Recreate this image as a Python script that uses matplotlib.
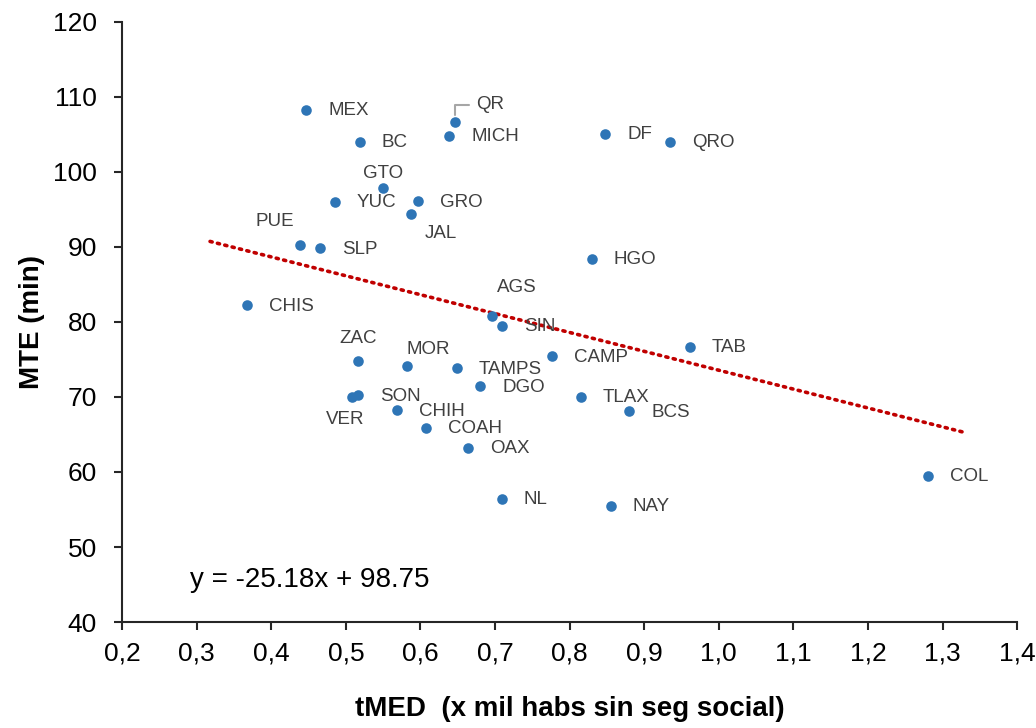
import numpy as np
import matplotlib
matplotlib.use('Agg')
import matplotlib.pyplot as plt
from matplotlib.ticker import FuncFormatter, MultipleLocator

plt.rcParams['font.family'] = ['Liberation Sans', 'DejaVu Sans']

# data
states = ['MEX', 'BC', 'QR', 'MICH', 'GTO', 'YUC', 'GRO', 'JAL', 'PUE', 'SLP',
          'DF', 'QRO', 'HGO', 'CHIS', 'AGS', 'SIN', 'ZAC', 'MOR', 'TAMPS', 'DGO',
          'VER', 'SON', 'CHIH', 'COAH', 'OAX', 'CAMP', 'TAB', 'TLAX', 'BCS',
          'NL', 'NAY', 'COL']
tmed = [0.447, 0.519, 0.646, 0.639, 0.550, 0.485, 0.597, 0.587, 0.439, 0.465,
        0.848, 0.935, 0.830, 0.368, 0.696, 0.709, 0.517, 0.582, 0.649, 0.680,
        0.508, 0.516, 0.569, 0.608, 0.664, 0.777, 0.961, 0.815, 0.880,
        0.709, 0.855, 1.280]
mte = [108.3, 104.0, 106.7, 104.8, 97.8, 96.0, 96.1, 94.4, 90.2, 89.8,
       105.1, 104.0, 88.4, 82.2, 80.8, 79.5, 74.8, 74.1, 73.8, 71.4,
       70.0, 70.2, 68.2, 65.9, 63.2, 75.4, 76.7, 70.0, 68.1,
       56.4, 55.5, 59.5]

# label offsets in pixels (dx, dy) and horizontal alignment
label_pos = {
    'GTO': (0, 15, 'center'), 'JAL': (30, -20, 'center'), 'PUE': (-26, 24, 'center'),
    'AGS': (25, 28, 'center'), 'ZAC': (0, 22, 'center'), 'MOR': (21, 17, 'center'),
    'VER': (-7, -23, 'center'), 'QR': (21, 17, 'left'),
}

slope, intercept = -25.18, 98.75
trend_x = np.array([0.318, 1.33])

fig = plt.figure(figsize=(10.36, 7.28), dpi=100)
ax = fig.add_axes([0.1178, 0.1456, 0.864, 0.8242])

ax.plot(trend_x, slope * trend_x + intercept, color='#C00000', lw=2.6,
        linestyle=(0, (0.6, 1.5)), dash_capstyle='round', zorder=2)
ax.scatter(tmed, mte, s=58, color='#2E75B6', zorder=3, linewidths=0)

for name, x, y in zip(states, tmed, mte):
    dx, dy, ha = label_pos.get(name, (22, -1, 'left'))
    ax.annotate(name, (x, y), xytext=(dx, dy), textcoords='offset pixels',
                ha=ha, va='center', fontsize=13.5, color='#404040', zorder=4)

# leader line for QR
ax.annotate('', (0.646, 106.7), xytext=(14, 17), textcoords='offset pixels',
            arrowprops=dict(arrowstyle='-', color='#A6A6A6', lw=1.5,
                            connectionstyle='angle,angleA=0,angleB=90,rad=0',
                            shrinkA=0, shrinkB=5))

ax.text(68 / 895, 42 / 600, 'y = -25.18x + 98.75', transform=ax.transAxes,
        fontsize=20, color='black', va='center')

ax.set_xlim(0.2, 1.4)
ax.set_ylim(40, 120)
ax.xaxis.set_major_locator(MultipleLocator(0.1))
ax.yaxis.set_major_locator(MultipleLocator(10))
ax.xaxis.set_major_formatter(FuncFormatter(lambda v, p: f'{v:.1f}'.replace('.', ',')))
ax.tick_params(axis='both', labelsize=19, direction='out', length=6,
               color='#262626', width=1.5)
ax.tick_params(axis='x', pad=8)
ax.tick_params(axis='y', pad=12)

for side in ['top', 'right']:
    ax.spines[side].set_visible(False)
for side in ['left', 'bottom']:
    ax.spines[side].set_color('#262626')
    ax.spines[side].set_linewidth(1.5)

ax.set_xlabel('tMED  (x mil habs sin seg social)', fontsize=20, fontweight='bold',
              labelpad=22)
ax.set_ylabel('MTE (min)', fontsize=20, fontweight='bold', labelpad=6)

fig.savefig('out.png', dpi=100)
